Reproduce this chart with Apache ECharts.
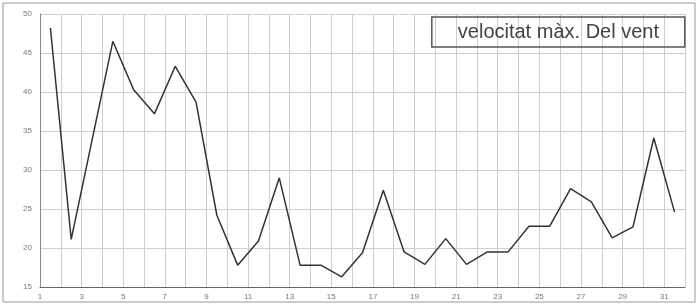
<!DOCTYPE html>
<html>
<head>
<meta charset="utf-8">
<style>
  html, body { margin: 0; padding: 0; background: #fff; }
  #chart { width: 698px; height: 305px; }
</style>
<script src="https://cdn.jsdelivr.net/npm/echarts@6/dist/echarts.min.js"></script>
</head>
<body>
<div id="chart"></div>
<script>
// dies del mes
const days = ['1', '2', '3', '4', '5', '6', '7', '8', '9', '10', '11', '12', '13', '14', '15', '16',
  '17', '18', '19', '20', '21', '22', '23', '24', '25', '26', '27', '28', '29', '30', '31']
// velocitat màxima del vent
const windMax = [48.2, 21.1, 33.8, 46.5, 40.3, 37.2, 43.3, 38.7, 24.2, 17.8, 20.9, 29.0, 17.8, 17.8, 16.3, 19.4,
  27.4, 19.5, 17.9, 21.2, 17.9, 19.5, 19.5, 22.8, 22.8, 27.6, 25.9, 21.3, 22.7, 34.1, 24.6]
const yTicks = { min: 15, max: 50, step: 5 }
const titleText = 'velocitat màx. Del vent'

const chart = echarts.init(document.getElementById('chart'))
chart.setOption({
  animation: false,
  textStyle: { fontFamily: 'Liberation Sans, Arial, sans-serif' },
  grid: { left: 40, right: 13, top: 14, bottom: 18 },
  title: {
    text: titleText,
    right: 13,
    top: 17,
    padding: [5, 26, 5, 26],
    borderColor: '#555',
    borderWidth: 1.5,
    textStyle: { fontSize: 20, fontWeight: 'normal', color: '#444' }
  },
  graphic: [
    {
      type: 'rect',
      shape: { x: 3, y: 3, width: 692, height: 299 },
      style: { fill: 'none', stroke: '#999', lineWidth: 1 },
      silent: true
    }
  ],
  xAxis: [
    {
      type: 'category',
      data: days,
      boundaryGap: true,
      axisLine: { show: false },
      axisTick: { show: false },
      axisLabel: { show: false },
      splitLine: { show: true, interval: 0, lineStyle: { color: '#cfcfcf', width: 1 } }
    },
    {
      type: 'value',
      position: 'bottom',
      min: 1,
      max: 32,
      interval: 1,
      axisLine: { show: true, lineStyle: { color: '#666', width: 1 } },
      axisTick: { show: false },
      splitLine: { show: false },
      axisLabel: {
        margin: 6,
        fontSize: 8,
        color: '#777',
        formatter: v => (v % 2 === 1 && v <= 31 ? String(v) : '')
      }
    }
  ],
  yAxis: {
    type: 'value',
    min: yTicks.min,
    max: yTicks.max,
    interval: yTicks.step,
    axisLine: { show: true, lineStyle: { color: '#888' } },
    axisTick: { show: false },
    axisLabel: { fontSize: 8, color: '#777', margin: 8 },
    splitLine: { show: true, lineStyle: { color: '#cfcfcf', width: 1 } }
  },
  series: [
    {
      type: 'line',
      xAxisIndex: 0,
      data: windMax,
      symbol: 'none',
      lineStyle: { color: '#333', width: 1.5 }
    }
  ]
})
</script>
</body>
</html>
